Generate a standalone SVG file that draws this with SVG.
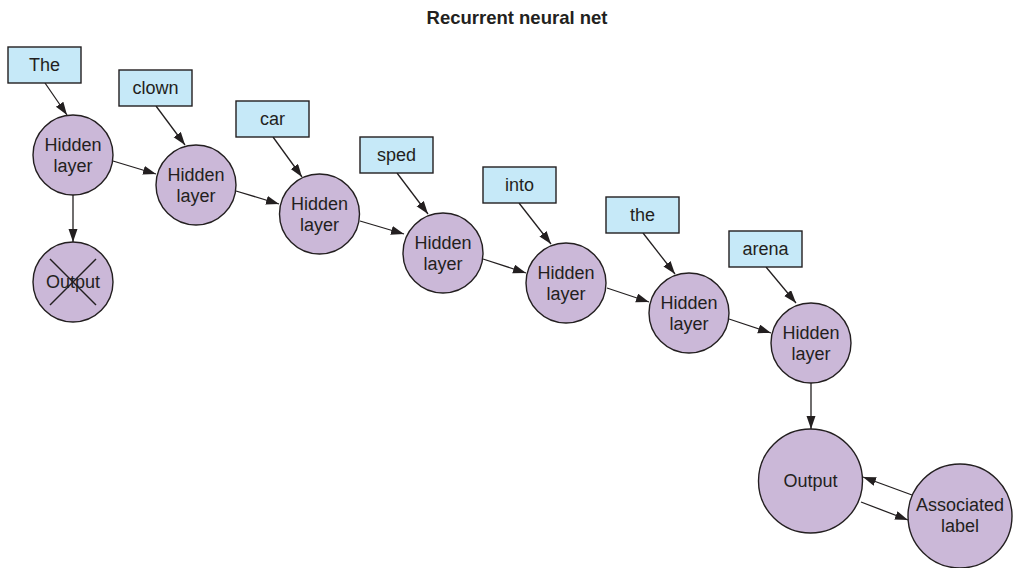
<svg xmlns="http://www.w3.org/2000/svg" width="1013" height="568" viewBox="0 0 1013 568">
<style>
.bg{fill:#ffffff}
.box{fill:#c6e9f8;stroke:#231f20;stroke-width:1.4}
.node{fill:#cbb8d8;stroke:#231f20;stroke-width:1.4}
.t{font-family:"Liberation Sans",Arial,Helvetica,sans-serif;font-size:18px;fill:#231f20;text-anchor:middle}
.title{font-family:"Liberation Sans",Arial,Helvetica,sans-serif;font-size:18.5px;font-weight:bold;fill:#231f20;text-anchor:middle}
.edge{stroke:#231f20;stroke-width:1.3;fill:none;marker-end:url(#arr)}
.cross{stroke:#231f20;stroke-width:1.4}
</style>
<defs>
<marker id="arr" markerUnits="userSpaceOnUse" markerWidth="14" markerHeight="10" refX="13" refY="4.5" orient="auto">
<path d="M0,0 L13,4.5 L0,9 z" fill="#231f20"/>
</marker>
</defs>
<rect class="bg" x="0" y="0" width="1013" height="568"/>
<text class="title" x="517" y="24">Recurrent neural net</text>

<g id="connectors">
<line class="edge" x1="45" y1="83" x2="67" y2="115"/>
<line class="edge" x1="156" y1="106" x2="185" y2="145"/>
<line class="edge" x1="273" y1="137" x2="302" y2="177"/>
<line class="edge" x1="397" y1="173" x2="428" y2="214"/>
<line class="edge" x1="519" y1="203" x2="551" y2="244"/>
<line class="edge" x1="643" y1="233" x2="675" y2="274"/>
<line class="edge" x1="766" y1="267" x2="796" y2="303"/>
<line class="edge" x1="113" y1="161" x2="156" y2="174"/>
<line class="edge" x1="236" y1="191" x2="279" y2="204"/>
<line class="edge" x1="360" y1="221" x2="404" y2="234"/>
<line class="edge" x1="483" y1="259" x2="526" y2="273"/>
<line class="edge" x1="607" y1="288" x2="649" y2="302"/>
<line class="edge" x1="729" y1="319" x2="771" y2="333"/>
<line class="edge" x1="73" y1="195" x2="73" y2="242"/>
<line class="edge" x1="811" y1="383" x2="811" y2="429"/>
<line class="edge" x1="912" y1="495" x2="863" y2="477"/>
<line class="edge" x1="861" y1="502" x2="908" y2="520"/>
</g>

<g id="w-the"><rect class="box" x="8" y="47" width="73" height="36"/><text class="t" x="44.5" y="71">The</text></g>
<g id="w-clown"><rect class="box" x="119" y="70" width="73" height="36"/><text class="t" x="155.5" y="94">clown</text></g>
<g id="w-car"><rect class="box" x="236" y="101" width="73" height="36"/><text class="t" x="272.5" y="125">car</text></g>
<g id="w-sped"><rect class="box" x="360" y="137" width="73" height="36"/><text class="t" x="396.5" y="161">sped</text></g>
<g id="w-into"><rect class="box" x="483" y="167" width="73" height="36"/><text class="t" x="519.5" y="191">into</text></g>
<g id="w-the2"><rect class="box" x="606" y="197" width="73" height="36"/><text class="t" x="642.5" y="221">the</text></g>
<g id="w-arena"><rect class="box" x="729" y="231" width="73" height="36"/><text class="t" x="765.5" y="255">arena</text></g>

<g id="h1"><circle class="node" cx="73" cy="155" r="40"/><text class="t" x="73" y="151">Hidden</text><text class="t" x="73" y="172">layer</text></g>
<g id="h2"><circle class="node" cx="196" cy="185" r="40"/><text class="t" x="196" y="181">Hidden</text><text class="t" x="196" y="202">layer</text></g>
<g id="h3"><circle class="node" cx="319.5" cy="214" r="40"/><text class="t" x="319.5" y="210">Hidden</text><text class="t" x="319.5" y="231">layer</text></g>
<g id="h4"><circle class="node" cx="443" cy="253" r="40"/><text class="t" x="443" y="249">Hidden</text><text class="t" x="443" y="270">layer</text></g>
<g id="h5"><circle class="node" cx="566" cy="283" r="40"/><text class="t" x="566" y="279">Hidden</text><text class="t" x="566" y="300">layer</text></g>
<g id="h6"><circle class="node" cx="689" cy="313" r="40"/><text class="t" x="689" y="309">Hidden</text><text class="t" x="689" y="330">layer</text></g>
<g id="h7"><circle class="node" cx="811" cy="343" r="40"/><text class="t" x="811" y="339">Hidden</text><text class="t" x="811" y="360">layer</text></g>

<g id="out-crossed"><circle class="node" cx="73" cy="282" r="40"/><text class="t" x="73" y="288">Output</text>
<line class="cross" x1="50" y1="259" x2="96" y2="305"/><line class="cross" x1="96" y1="259" x2="50" y2="305"/></g>

<g id="output"><circle class="node" cx="810.5" cy="481" r="52"/><text class="t" x="810.5" y="487">Output</text></g>
<g id="assoc"><circle class="node" cx="960" cy="516" r="52"/><text class="t" x="960" y="511">Associated</text><text class="t" x="960" y="532">label</text></g>
</svg>
